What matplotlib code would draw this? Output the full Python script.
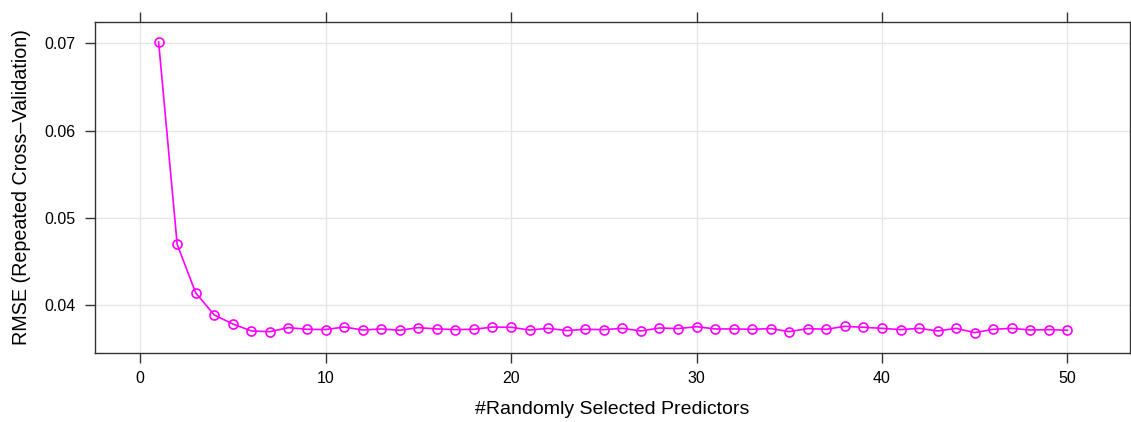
import matplotlib.pyplot as plt

predictors = list(range(1, 51))
rmse = [
    0.07015, 0.04698, 0.04141, 0.03889, 0.03786, 0.03706, 0.03698, 0.03744, 0.03725, 0.03722,
    0.03751, 0.03717, 0.03729, 0.03714, 0.03744, 0.03729, 0.03722, 0.03725, 0.03751, 0.03748,
    0.03717, 0.03736, 0.03710, 0.03725, 0.03721, 0.03736, 0.03706, 0.03740, 0.03733, 0.03755,
    0.03729, 0.03729, 0.03725, 0.03733, 0.03698, 0.03733, 0.03725, 0.03759, 0.03748, 0.03736,
    0.03721, 0.03736, 0.03706, 0.03736, 0.03687, 0.03725, 0.03736, 0.03717, 0.03721, 0.03714,
]
xticks = [0, 10, 20, 30, 40, 50]
yticks = [0.04, 0.05, 0.06, 0.07]

plt.rcParams["font.family"] = ["Liberation Sans", "DejaVu Sans"]

fig = plt.figure(figsize=(11.31, 4.22), dpi=100)
ax = fig.add_axes([95 / 1131, 1 - 352.7 / 422, (1130 - 95) / 1131, (352.7 - 22) / 422])

ax.plot(predictors, rmse, color="#FF00FF", lw=1.2, marker="o", ms=6.5,
        mfc="none", mec="#FF00FF", mew=1.2, zorder=3)

ax.set_xlim(-2.43, 53.37)
ax.set_ylim(0.03457, 0.07244)
ax.set_xticks(xticks)
ax.set_xticklabels([str(t) for t in xticks])
ax.set_yticks(yticks)
ax.set_yticklabels([f"{t:.2f}" for t in yticks])
ax.grid(True, color="#E6E6E6", lw=1)
ax.set_axisbelow(True)

for s in ax.spines.values():
    s.set_color("#333333")
    s.set_linewidth(1)

ax.tick_params(axis="both", direction="out", length=7, width=1, color="#333333",
               labelsize=11.5, pad=7)
ax.tick_params(axis="x", top=True, labeltop=False, pad=6)

ax.set_xlabel("#Randomly Selected Predictors", fontsize=14, va="center")
ax.set_ylabel("RMSE (Repeated Cross\u2013Validation)", fontsize=14.2, va="center")
ax.xaxis.set_label_coords(0.5, (352.7 - 410) / 330.7)
ax.yaxis.set_label_coords((22 - 95) / 1035, 0.5)

fig.savefig("out.png", dpi=100)
